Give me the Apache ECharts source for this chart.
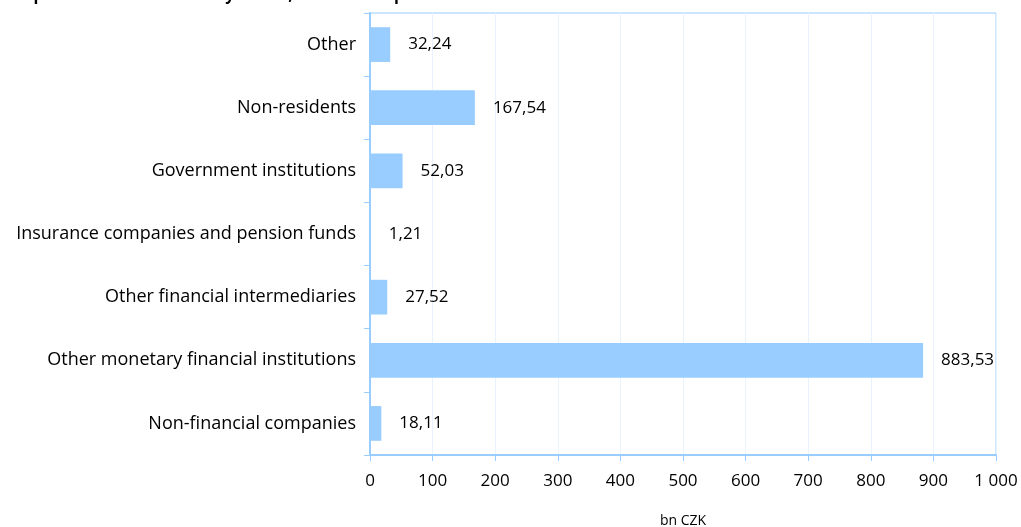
<!DOCTYPE html>
<html>
<head>
<meta charset="utf-8">
<script src="https://cdn.jsdelivr.net/npm/echarts@6/dist/echarts.min.js"></script>
<style>
  html, body { margin: 0; padding: 0; background: #fff; }
  #chart { width: 1021px; height: 527px; }
</style>
</head>
<body>
<div id="chart"></div>
<script>
// sectors, bottom to top
const categories = [
    'Non-financial companies',
    'Other monetary financial institutions',
    'Other financial intermediaries',
    'Insurance companies and pension funds',
    'Government institutions',
    'Non-residents',
    'Other'
];
const values = [18.11, 883.53, 27.52, 1.21, 52.03, 167.54, 32.24];
const axisTicks = [0, 100, 200, 300, 400, 500, 600, 700, 800, 900, 1000];

const font = '"Open Sans", sans-serif';
const blue = '#99ccff';

// 1000 -> "1 000", 32.24 -> "32,24"
function fmtTick(v) {
    return String(v).replace(/\B(?=(\d{3})+(?!\d))/g, ' ');
}
function fmtVal(v) {
    return v.toFixed(2).replace('.', ',');
}

const chart = echarts.init(document.getElementById('chart'));
chart.setOption({
    animation: false,
    title: {
        text: 'Graph 1: Holders of bonds by sector, as at end of period',
        left: 0,
        top: -18,
        textStyle: { fontFamily: font, fontSize: 16, fontWeight: 'bold', color: '#000' }
    },
    grid: {
        left: 370,
        right: 25,
        top: 13,
        bottom: 72,
        outerBoundsMode: 'none',
        show: true,
        borderColor: blue,
        borderWidth: 1
    },
    xAxis: {
        type: 'value',
        min: axisTicks[0],
        max: axisTicks[axisTicks.length - 1],
        interval: 100,
        name: 'bn CZK',
        nameLocation: 'middle',
        nameGap: 59,
        nameTextStyle: { fontFamily: font, fontSize: 14, color: '#000' },
        axisLine: { show: true, lineStyle: { color: blue, width: 2 } },
        axisTick: { show: true, length: 6, lineStyle: { color: blue } },
        axisLabel: {
            fontFamily: font, fontSize: 17, color: '#000', margin: 18,
            formatter: fmtTick
        },
        splitLine: { show: true, lineStyle: { color: '#e8f3ff', width: 1 } }
    },
    yAxis: {
        type: 'category',
        data: categories,
        axisLine: { show: true, lineStyle: { color: blue, width: 2 } },
        axisTick: { show: true, length: 6, lineStyle: { color: blue } },
        axisLabel: { fontFamily: font, fontSize: 18, color: '#000', margin: 14 },
        splitLine: { show: false }
    },
    series: [{
        type: 'bar',
        data: values,
        barWidth: '55%',
        itemStyle: { color: blue },
        label: {
            show: true,
            position: 'right',
            distance: 18,
            fontFamily: font,
            fontSize: 17,
            color: '#000',
            formatter: function (p) { return fmtVal(p.value); }
        }
    }]
});
</script>
</body>
</html>
